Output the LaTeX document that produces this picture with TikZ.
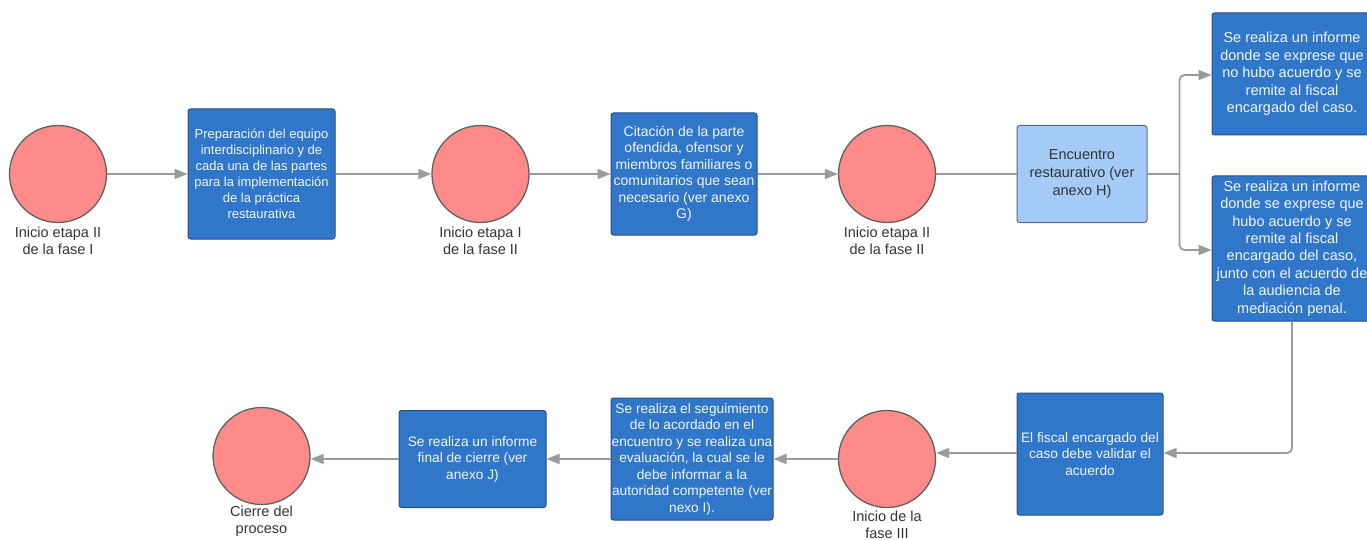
\documentclass[tikz,border=0pt]{standalone}
\usepackage{fontspec}
\setmainfont{Liberation Sans}
\usetikzlibrary{arrows.meta}
\definecolor{circfill}{HTML}{FF8A8A}
\definecolor{circline}{HTML}{606060}
\definecolor{boxfill}{HTML}{3077C9}
\definecolor{boxline}{HTML}{244F86}
\definecolor{lightfill}{HTML}{A4CBF8}
\definecolor{lightline}{HTML}{5A6A80}
\definecolor{connc}{HTML}{9A9A9A}
\definecolor{labtext}{HTML}{333333}
\definecolor{boxtext}{HTML}{F2F5FA}
\begin{document}
\begin{tikzpicture}[x=1pt,y=-1pt,
  circ/.style={circle, draw=circline, line width=1.3pt, fill=circfill, minimum size=97pt, inner sep=0pt},
  darkbox/.style={draw=boxline, line width=1pt, fill=boxfill, rounded corners=2.5pt, text=boxtext, align=center, inner sep=0pt, font=\fontsize{13.7}{16.5}\selectfont},
  lightbox/.style={draw=lightline, line width=1pt, fill=lightfill, rounded corners=2.5pt, text=labtext, align=center, inner sep=0pt, font=\fontsize{14.5}{18}\selectfont},
  lab/.style={text=labtext, align=center, inner sep=0pt, font=\fontsize{14.5}{17}\selectfont},
  conn/.style={draw=connc, line width=1.8pt, -{Triangle[length=13pt,width=10pt]}},
  plain/.style={draw=connc, line width=1.8pt}
]
\useasboundingbox (0,0) rectangle (1367,540);

% top row
\node[circ] (c1) at (58,174) {};
\node[lab] (l1) at (58,241) {Inicio etapa II\\de la fase I};

\node[darkbox, minimum width=147pt, minimum height=130pt, font=\fontsize{13}{16}\selectfont] (b1) at (261.5,174)
  {Preparación del equipo\\interdisciplinario y de\\cada una de las partes\\para la implementación\\de la práctica\\restaurativa};

\node[circ] (c2) at (480.5,174) {};
\node[lab] (l2) at (480.5,241) {Inicio etapa I\\de la fase II};

\node[darkbox, minimum width=146pt, minimum height=122pt, font=\fontsize{14}{16.5}\selectfont] (b2) at (684,174)
  {Citación de la parte\\ofendida, ofensor y\\miembros familiares o\\comunitarios que sean\\necesario (ver anexo\\G)};

\node[circ] (c3) at (887,174) {};
\node[lab] (l3) at (887,241) {Inicio etapa II\\de la fase II};

\node[lightbox, minimum width=130pt, minimum height=97pt] (bh) at (1082,174)
  {Encuentro\\restaurativo (ver\\anexo H)};

\node[darkbox, minimum width=160pt, minimum height=122pt, font=\fontsize{14.5}{17.5}\selectfont] (r1) at (1292,74)
  {Se realiza un informe\\donde se exprese que\\no hubo acuerdo y se\\remite al fiscal\\encargado del caso.};

\node[darkbox, minimum width=160pt, minimum height=145pt, font=\fontsize{14.5}{17.4}\selectfont] (r2) at (1292,248.5)
  {Se realiza un informe\\donde se exprese que\\hubo acuerdo y se\\remite al fiscal\\encargado del caso,\\junto con el acuerdo de\\la audiencia de\\mediación penal.};

% bottom row
\node[darkbox, minimum width=146pt, minimum height=122pt] (bf) at (1090,454)
  {El fiscal encargado del\\caso debe validar el\\acuerdo};

\node[circ] (c4) at (887,459) {};
\node[lab] (l4) at (887,525) {Inicio de la\\fase III};

\node[darkbox, minimum width=162pt, minimum height=122pt] (bs) at (692,459)
  {Se realiza el seguimiento\\de lo acordado en el\\encuentro y se realiza una\\evaluación, la cual se le\\debe informar a la\\autoridad competente (ver\\nexo I).};

\node[darkbox, minimum width=147pt, minimum height=97pt] (bj) at (472.5,459)
  {Se realiza un informe\\final de cierre (ver\\anexo J)};

\node[circ] (c5) at (261.5,456) {};
\node[lab] (l5) at (261.5,521) {Cierre del\\proceso};

% connectors
\draw[conn] (c1.east) -- (b1.west);
\draw[conn] (b1.east) -- (c2.west);
\draw[conn] (c2.east) -- (b2.west);
\draw[conn] (b2.east) -- (c3.west);
\draw[plain] (c3.east) -- (bh.west);
\coordinate (split) at ([xshift=32pt]bh.east);
\draw[plain] (bh.east) -- (split);
\draw[conn, rounded corners=5pt] (split) |- ([yshift=-1pt]r1.west);
\draw[conn, rounded corners=5pt] (split) |- ([yshift=-1.5pt]r2.west);
\draw[conn, rounded corners=5pt] (r2.south) |- ([yshift=1pt]bf.east);
\draw[conn] ([yshift=1pt]bf.west) -- ([yshift=1pt]bf.west -| c4.east);
\draw[conn] (c4.west) -- (c4.west -| bs.east);
\draw[conn] (bs.west) -- (bs.west -| bj.east);
\draw[conn] (bj.west) -- (bj.west -| c5.east);
\end{tikzpicture}
\end{document}
